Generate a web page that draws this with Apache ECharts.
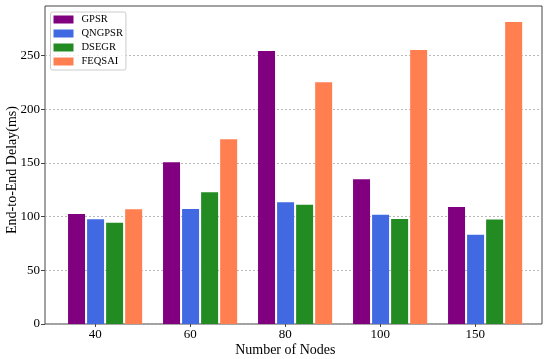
<!DOCTYPE html>
<html>
<head>
<meta charset="utf-8">
<script src="https://cdn.jsdelivr.net/npm/echarts@6/dist/echarts.min.js"></script>
<style>html,body{margin:0;padding:0;background:#fff}#c{width:550px;height:359px}</style>
</head>
<body>
<div id="c"></div>
<script>
const categories = ['40', '60', '80', '100', '150'];
const gpsr   = [102.5, 150.5, 254, 134.7, 109];
const qngpsr = [97.5, 107, 113.3, 101.8, 83];
const dsegr  = [94.3, 122.6, 111, 97.8, 97.2];
const feqsai = [106.8, 172, 225, 255, 281];
const yTicks = [0, 50, 100, 150, 200, 250];

const FONT = 'Liberation Serif';
const chart = echarts.init(document.getElementById('c'), null, {renderer: 'canvas'});
const YMAX = 296;
const mk = (name, data, color) => ({
  name, type: 'bar', data, xAxisIndex: 1, yAxisIndex: 1,
  barWidth: 17, barGap: '12%',
  itemStyle: {color},
  emphasis: {disabled: true}
});
const G = {top: 6, bottom: 35, containLabel: false, outerBoundsMode: 'none'};
chart.setOption({
  animation: false,
  textStyle: {fontFamily: FONT},
  grid: [
    Object.assign({left: 45, right: 8, show: true, borderColor: '#444', borderWidth: 1, backgroundColor: 'transparent'}, G),
    Object.assign({left: 57.6, width: 475}, G),
    Object.assign({left: 47.8, width: 475}, G)
  ],
  legend: {
    orient: 'vertical', left: 50.5, top: 12,
    data: ['GPSR', 'QNGPSR', 'DSEGR', 'FEQSAI'],
    icon: 'rect', itemWidth: 20, itemHeight: 8, itemGap: 1,
    padding: [1, 3, 2, 3],
    borderColor: '#ccc', borderWidth: 1, borderRadius: 2,
    backgroundColor: 'rgba(255,255,255,0.8)',
    textStyle: {fontFamily: FONT, fontSize: 10.5, color: '#000', lineHeight: 13, padding: [0, 0, 0, 3]}
  },
  xAxis: [
    {type: 'category', gridIndex: 0, data: categories, show: false},
    {type: 'category', gridIndex: 1, data: categories, show: false},
    {type: 'category', gridIndex: 2, data: categories,
     axisLine: {show: false},
     axisTick: {show: true, alignWithLabel: true, length: 3, lineStyle: {color: '#444'}},
     axisLabel: {fontFamily: FONT, fontSize: 13, color: '#000', margin: 4},
     name: 'Number of Nodes', nameLocation: 'middle', nameGap: 19, nameMoveOverlap: false,
     nameTextStyle: {fontFamily: FONT, fontSize: 14, color: '#000'}},
  ],
  yAxis: [
    {type: 'value', gridIndex: 0, min: 0, max: YMAX, interval: 50,
     axisLine: {show: false},
     axisTick: {show: true, length: 4, lineStyle: {color: '#444'}, customValues: yTicks},
     axisLabel: {fontFamily: FONT, fontSize: 13, color: '#000', margin: 5, customValues: yTicks},
     splitLine: {show: true, lineStyle: {color: '#aaa', type: [2, 2], width: 0.8}},
     name: 'End-to-End Delay(ms)', nameLocation: 'middle', nameGap: 26, nameMoveOverlap: false,
     nameTextStyle: {fontFamily: FONT, fontSize: 14, color: '#000', padding: [0, 10, 0, 0]}},
    {type: 'value', gridIndex: 1, min: 0, max: YMAX, interval: 50, show: false},
    {type: 'value', gridIndex: 2, min: 0, max: YMAX, interval: 50, show: false}
  ],
  series: [
    mk('GPSR', gpsr, '#800080'),
    mk('QNGPSR', qngpsr, '#4169E1'),
    mk('DSEGR', dsegr, '#228B22'),
    mk('FEQSAI', feqsai, '#FF7F50')
  ]
});
</script>
</body>
</html>
